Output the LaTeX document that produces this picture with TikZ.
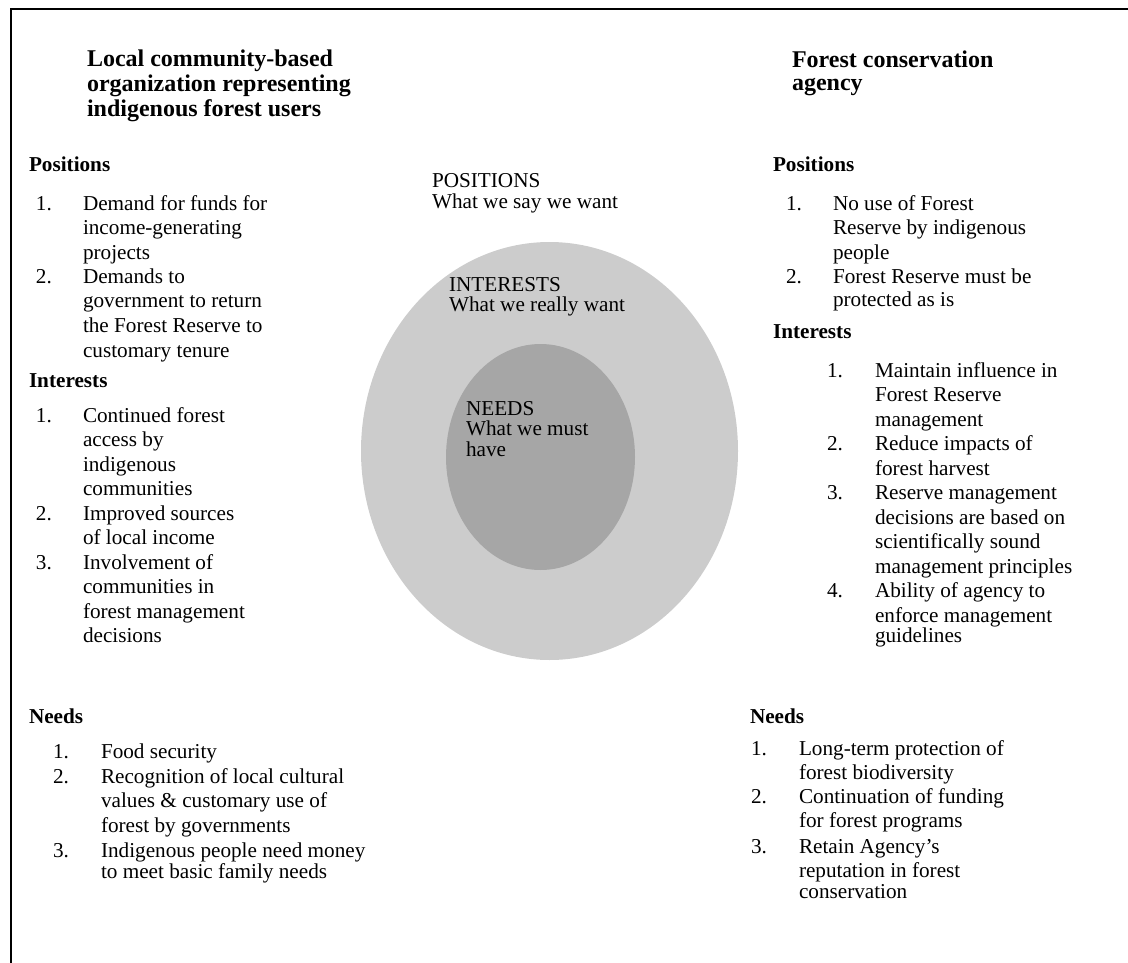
\documentclass[tikz,border=0pt]{standalone}
\usepackage{fontspec}
\setmainfont{Liberation Serif}
\newcommand\normsize{\fontsize{15.9pt}{18.375pt}\selectfont}
\newcommand\titsize{\fontsize{18pt}{18.6pt}\selectfont}
\newcommand\ml[1]{\vtop{\halign{##\hfil\cr#1\crcr}}}
\definecolor{outergray}{HTML}{CCCCCC}
\definecolor{innergray}{HTML}{A6A6A6}
\tikzset{
  txt/.style={anchor=base west, inner sep=0pt, outer sep=0pt, font=\normsize},
  hd/.style={txt, font=\normsize\bfseries},
  ttl/.style={txt, font=\titsize\bfseries},
  ctr/.style={txt, font=\fontsize{15.9pt}{15.4pt}\selectfont},
}
\begin{document}
\begin{tikzpicture}[x=0.75pt,y=-0.75pt]
\useasboundingbox (0,0) rectangle (1128,963);
\begin{scope}
\clip (0,0) rectangle (1128,963);
\draw[line width=1.5pt] (10.5,9.5) rectangle (1160,1000);
\end{scope}

% ellipses
\fill[outergray] (549.5,451) ellipse [x radius=188.5, y radius=209];
\fill[innergray] (540.5,457) ellipse [x radius=94.5, y radius=113];

% centre labels
\node[ctr] (posl) at (432,188) {\ml{POSITIONS\cr What we say we want}};
\node[ctr] (intl) at (449,291) {\ml{INTERESTS\cr What we really want}};
\node[ctr] (needl) at (466,415) {\ml{NEEDS\cr What we must\cr have}};

% left column
\node[ttl] (ltitle) at (87,67) {\ml{Local community-based\cr organization representing\cr indigenous forest users}};
\node[hd] (lpos) at (29,172) {Positions};
\node[txt] (lp1n) at (36,210) {1.};
\node[txt] (lp1) at (83,210) {\ml{Demand for funds for\cr income-generating\cr projects}};
\node[txt] (lp2n) at (36,283.5) {2.};
\node[txt] (lp2) at (83,283.5) {\ml{Demands to\cr government to return\cr the Forest Reserve to\cr customary tenure}};
\node[hd] (lint) at (29,387) {Interests};
\node[txt] (li1n) at (36,422) {1.};
\node[txt] (li1) at (83,422) {\ml{Continued forest\cr access by\cr indigenous\cr communities}};
\node[txt] (li2n) at (36,520) {2.};
\node[txt] (li2) at (83,520) {\ml{Improved sources\cr of local income}};
\node[txt] (li3n) at (36,569) {3.};
\node[txt] (li3) at (83,569) {\ml{Involvement of\cr communities in\cr forest management\cr decisions}};
\node[hd] (lneed) at (29,723) {Needs};
\node[txt] (ln1n) at (53,758) {1.};
\node[txt] (ln1) at (101,758) {Food security};
\node[txt] (ln2n) at (53,783) {2.};
\node[txt] (ln2) at (101,783) {\ml{Recognition of local cultural\cr values \& customary use of\cr forest by governments}};
\node[txt] (ln3n) at (53,857) {3.};
\node[txt] (ln3) at (101,857) {\ml{Indigenous people need money\cr\noalign{\kern-2.6pt} to meet basic family needs}};

% right column
\node[ttl] (rtitle) at (792,67.5) {\ml{Forest conservation\cr\noalign{\kern-1.1pt} agency}};
\node[hd] (rpos) at (773,172) {Positions};
\node[txt] (rp1n) at (786,210) {1.};
\node[txt] (rp1) at (833,210) {\ml{No use of Forest\cr Reserve by indigenous\cr people}};
\node[txt] (rp2n) at (786,283.5) {2.};
\node[txt] (rp2) at (833,283.5) {\ml{Forest Reserve must be\cr\noalign{\kern-1.5pt} protected as is}};
\node[hd] (rint) at (773,338) {Interests};
\node[txt] (ri1n) at (827,377) {1.};
\node[txt] (ri1) at (875,377) {\ml{Maintain influence in\cr Forest Reserve\cr management}};
\node[txt] (ri2n) at (827,450.5) {2.};
\node[txt] (ri2) at (875,450.5) {\ml{Reduce impacts of\cr forest harvest}};
\node[txt] (ri3n) at (827,499.5) {3.};
\node[txt] (ri3) at (875,499.5) {\ml{Reserve management\cr decisions are based on\cr scientifically sound\cr management principles}};
\node[txt] (ri4n) at (827,597.5) {4.};
\node[txt] (ri4) at (875,597.5) {\ml{Ability of agency to\cr enforce management\cr\noalign{\kern-3.2pt} guidelines}};
\node[hd] (rneed) at (750,723) {Needs};
\node[txt] (rn1n) at (751,755) {1.};
\node[txt] (rn1) at (799,755) {\ml{Long-term protection of\cr forest biodiversity}};
\node[txt] (rn2n) at (751,803) {2.};
\node[txt] (rn2) at (799,803) {\ml{Continuation of funding\cr for forest programs}};
\node[txt] (rn3n) at (751,853) {3.};
\node[txt] (rn3) at (799,853) {\ml{Retain Agency’s\cr reputation in forest\cr\noalign{\kern-2.6pt} conservation}};
\end{tikzpicture}
\end{document}
